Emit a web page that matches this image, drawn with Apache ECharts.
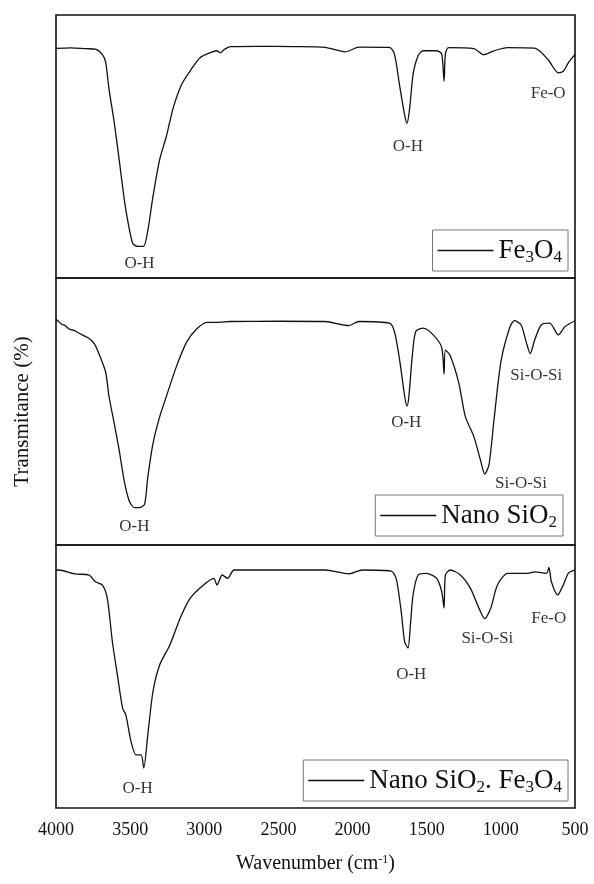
<!DOCTYPE html>
<html>
<head>
<meta charset="utf-8">
<title>FTIR</title>
<script src="https://cdn.jsdelivr.net/npm/echarts@6/dist/echarts.min.js"></script>
<style>
  html, body { margin: 0; padding: 0; background: #fff; }
  #main { width: 594px; height: 884px; }
</style>
</head>
<body>
<div id="main"></div>
<script>
// wavenumber (cm-1) and transmittance (arbitrary %, per panel)
var feWn = [4000, 3900, 3800, 3734, 3688, 3665, 3643, 3608, 3574, 3540, 3517, 3483, 3449, 3410, 3381, 3346, 3301, 3255, 3210, 3153, 3096, 3027, 2959, 2914, 2891, 2868, 2823, 2640, 2400, 2185, 2048, 1957, 1752, 1718, 1684, 1649, 1633, 1615, 1592, 1558, 1524, 1433, 1399, 1383, 1374, 1353, 1182, 1114, 1046, 954, 772, 681, 613, 579, 545, 500];
var feT  = [87.3, 87.5, 87.2, 87, 85, 82, 72, 59.4, 45, 30, 22, 13.2, 12, 12, 18, 31, 45, 54, 64.6, 73.6, 78.7, 83.8, 85.7, 86.4, 85.6, 86.8, 88, 88.1, 88, 87.7, 86, 87.8, 87.7, 85.2, 73.6, 62, 58.8, 64.5, 77.4, 84.5, 86.4, 86.4, 85.2, 74.8, 85.2, 87.6, 87.2, 84.9, 86.4, 87.6, 87.4, 83, 78, 78.6, 81.8, 85];

var siWn = [4000, 3984, 3960, 3940, 3915, 3893, 3870, 3850, 3779, 3740, 3711, 3665, 3643, 3608, 3574, 3540, 3506, 3472, 3438, 3403, 3381, 3346, 3301, 3255, 3187, 3119, 3050, 2982, 2914, 2823, 2500, 2185, 2025, 1957, 1752, 1718, 1684, 1649, 1633, 1620, 1597, 1574, 1524, 1456, 1399, 1383, 1374, 1342, 1285, 1239, 1182, 1137, 1109, 1080, 1046, 1000, 943, 909, 864, 829, 802, 772, 727, 670, 613, 567, 500];
var siT  = [84.5, 83.8, 82.6, 82.2, 81.0, 80.6, 80.2, 79.5, 77.4, 75.2, 71.7, 64.7, 55.8, 45.7, 35.5, 24, 16.5, 14, 14, 15.2, 25.4, 38, 48, 55.8, 67, 76, 81, 83.4, 83.4, 83.7, 83.8, 83.7, 82.2, 83.7, 83.1, 80, 69.8, 55.8, 52, 55.8, 71, 80, 81.2, 78.7, 74, 64, 73, 71, 61, 48, 40.6, 31.7, 26.6, 30, 47, 68.5, 81, 84, 82.5, 76, 71.7, 76.8, 82.5, 83.1, 78.7, 81.8, 84];

var mixWn = [4000, 3984, 3870, 3779, 3734, 3688, 3654, 3620, 3586, 3551, 3529, 3494, 3460, 3426, 3408, 3381, 3346, 3301, 3232, 3164, 3096, 3005, 2936, 2914, 2879, 2841, 2800, 2500, 2185, 2025, 1934, 1740, 1706, 1672, 1649, 1626, 1610, 1592, 1558, 1501, 1433, 1399, 1383, 1374, 1342, 1273, 1205, 1148, 1109, 1068, 1023, 954, 818, 772, 693, 676, 659, 617, 579, 545, 500];
var mixT  = [90.5, 90.5, 89, 88.6, 86, 84.8, 79.7, 63.3, 50.6, 38, 35.4, 25.3, 20.2, 20.2, 15.2, 27.8, 44.3, 54.4, 62, 72, 79.7, 84.8, 87.3, 84.8, 88.6, 87.3, 90.5, 90.5, 90.5, 89, 90.5, 90.1, 87.3, 74.7, 63.3, 60.8, 69.6, 81, 88.6, 89.2, 87.3, 82.3, 76, 88.6, 90.5, 88.6, 83.5, 76, 72, 76, 84.8, 89.2, 89.2, 89.8, 89.2, 91.5, 86, 81, 84.8, 89.2, 90.5];

// band annotations (wavenumber, transmittance where the text sits)
var feNotes  = ['O-H', 'O-H', 'Fe-O'];
var feNoteWn = [3437, 1627, 681];
var feNoteT  = [5.5, 50, 70];

var siNotes  = ['O-H', 'O-H', 'Si-O-Si', 'Si-O-Si'];
var siNoteWn = [3472, 1638, 761, 864];
var siNoteT  = [7, 45.7, 63.5, 23];

var mixNotes  = ['O-H', 'O-H', 'Si-O-Si', 'Fe-O'];
var mixNoteWn = [3449, 1604, 1091, 677];
var mixNoteT  = [7.3, 50.6, 64.6, 72];

var seriesNames = ['Fe3O4', 'Nano SiO2', 'Nano SiO2. Fe3O4'];
var legendText = {
  'Fe3O4': 'Fe{s|3}O{s|4}',
  'Nano SiO2': 'Nano SiO{s|2}',
  'Nano SiO2. Fe3O4': 'Nano SiO{s|2}. Fe{s|3}O{s|4}'
};

function pairs(xs, ys) {
  return xs.map(function (x, i) { return [x, ys[i]]; });
}
function notes(names, xs, ys) {
  return names.map(function (n, i) { return { name: n, value: [xs[i], ys[i]] }; });
}

var font = 'Liberation Serif';
var grids = [
  { left: 56, right: 19, top: 15, height: 263 },
  { left: 56, right: 19, top: 278, height: 267 },
  { left: 56, right: 19, top: 545, height: 263 }
];

var xAxes = [], yAxes = [];
grids.forEach(function (g, i) {
  g.show = true;
  g.borderColor = '#111';
  g.borderWidth = 1.6;
  var last = i === 2;
  xAxes.push({
    type: 'value', gridIndex: i, min: 500, max: 4000, interval: 500, inverse: true,
    axisLine: { show: false }, axisTick: { show: false }, splitLine: { show: false },
    axisLabel: {
      show: last, color: '#111', fontFamily: font, fontSize: 18, margin: 13,
      formatter: function (v) { return String(v); }
    },
    name: last ? 'Wavenumber (cm{sup|-1})' : '',
    nameLocation: 'middle', nameGap: 46,
    nameTextStyle: {
      color: '#111', fontFamily: font, fontSize: 20,
      rich: { sup: { fontFamily: font, fontSize: 12, verticalAlign: 'top', color: '#111', padding: [0, 0, 8, 0] } }
    }
  });
  yAxes.push({
    type: 'value', gridIndex: i, min: 0, max: 100,
    show: i === 1,
    axisLine: { show: false }, axisTick: { show: false }, splitLine: { show: false },
    axisLabel: { show: false },
    name: i === 1 ? 'Transmitance (%)' : '',
    nameLocation: 'middle', nameGap: 23,
    nameTextStyle: { color: '#111', fontFamily: font, fontSize: 21 }
  });
});

var noteLabel = { show: true, position: 'inside', formatter: '{b}', color: '#000', fontFamily: font, fontSize: 17 };

var lineData = [pairs(feWn, feT), pairs(siWn, siT), pairs(mixWn, mixT)];
var noteData = [notes(feNotes, feNoteWn, feNoteT), notes(siNotes, siNoteWn, siNoteT), notes(mixNotes, mixNoteWn, mixNoteT)];

var series = [];
lineData.forEach(function (d, i) {
  series.push({
    name: seriesNames[i], type: 'line', xAxisIndex: i, yAxisIndex: i,
    data: d, symbol: 'none', smooth: 0.25, animation: false,
    lineStyle: { color: '#111', width: 1.3 }, itemStyle: { color: '#111' }
  });
  series.push({
    type: 'scatter', xAxisIndex: i, yAxisIndex: i, symbolSize: 0,
    data: noteData[i], label: noteLabel, animation: false, silent: true
  });
});

var legendPos = [
  { right: 26, top: 230 },
  { right: 31, top: 495 },
  { right: 26, top: 760 }
];
var legends = legendPos.map(function (p, i) {
  return {
    data: [seriesNames[i]], right: p.right, top: p.top, orient: 'horizontal',
    backgroundColor: '#fff', borderColor: '#777', borderWidth: 1, borderRadius: 0,
    padding: [5, 6, 5, 5],
    icon: 'rect', itemWidth: 56, itemHeight: 1.4, itemGap: 4,
    selectedMode: false,
    formatter: function (name) { return legendText[name]; },
    textStyle: {
      color: '#111', fontFamily: font, fontSize: 27, lineHeight: 31,
      rich: { s: { fontFamily: font, fontSize: 17, color: '#111', verticalAlign: 'bottom', lineHeight: 24 } }
    }
  };
});

var chart = echarts.init(document.getElementById('main'), null, { renderer: 'canvas' });
chart.setOption({
  backgroundColor: '#fff',
  animation: false,
  grid: grids,
  xAxis: xAxes,
  yAxis: yAxes,
  legend: legends,
  series: series
});
</script>
</body>
</html>
